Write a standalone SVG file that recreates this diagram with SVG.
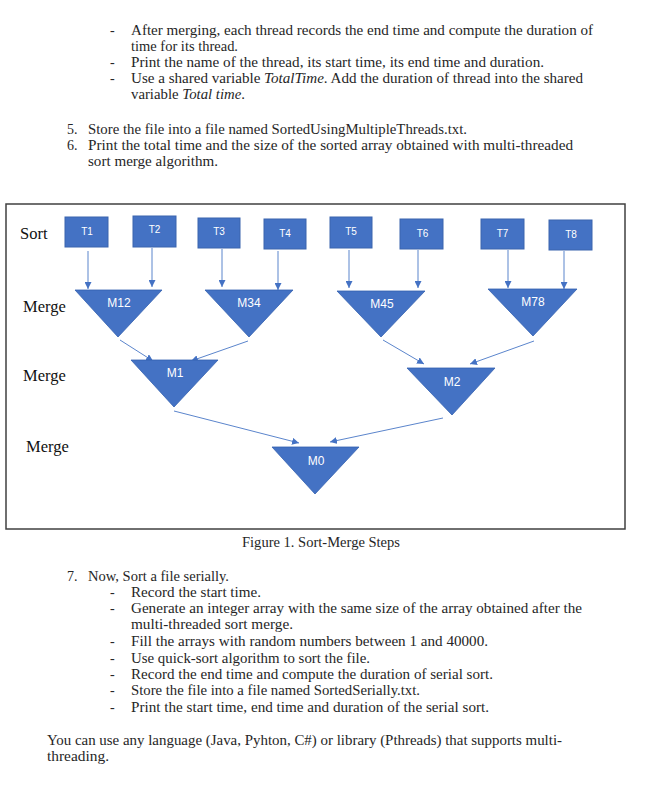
<svg xmlns="http://www.w3.org/2000/svg" width="662" height="807" viewBox="0 0 662 807">
<style>
.t{font-family:"Liberation Serif","Times New Roman",serif;font-size:14px;fill:#262626}
.side{font-family:"Liberation Serif","Times New Roman",serif;font-size:16.5px;fill:#111}
.box{fill:#4472C4;stroke:#3A64AE;stroke-width:1}
.tri{fill:#4472C4;stroke:#3461B0;stroke-width:0.8}
.lbl{font-family:"Liberation Sans",Arial,sans-serif;font-size:10px;fill:#fff;text-anchor:middle}
.mlbl{font-family:"Liberation Sans",Arial,sans-serif;font-size:12px;fill:#fff;text-anchor:middle}
.arr{stroke:#5B85CC;stroke-width:1;fill:none;marker-end:url(#ah)}
</style>
<defs>
<marker id="ah" markerUnits="userSpaceOnUse" markerWidth="7" markerHeight="7" refX="7" refY="3.5" orient="auto">
<path d="M0,0 L7,3.5 L0,7 z" fill="#4472C4"/>
</marker>
</defs>
<rect width="662" height="807" fill="#fff"/>

<g id="text-top">
<text class="t" x="110" y="35">-</text>
<text class="t" x="131" y="35" textLength="462" lengthAdjust="spacingAndGlyphs">After merging, each thread records the end time and compute the duration of</text>
<text class="t" x="131" y="51" textLength="107" lengthAdjust="spacingAndGlyphs">time for its thread.</text>
<text class="t" x="110" y="67">-</text>
<text class="t" x="131" y="67" textLength="413" lengthAdjust="spacingAndGlyphs">Print the name of the thread, its start time, its end time and duration.</text>
<text class="t" x="110" y="83">-</text>
<text class="t" x="131" y="83" textLength="452" lengthAdjust="spacingAndGlyphs">Use a shared variable <tspan font-style="italic">TotalTime</tspan>. Add the duration of thread into the shared</text>
<text class="t" x="131" y="99" textLength="114" lengthAdjust="spacingAndGlyphs">variable <tspan font-style="italic">Total time</tspan>.</text>
<text class="t" x="67" y="134">5.</text>
<text class="t" x="88" y="134" textLength="379" lengthAdjust="spacingAndGlyphs">Store the file into a file named SortedUsingMultipleThreads.txt.</text>
<text class="t" x="67" y="150">6.</text>
<text class="t" x="88" y="150" textLength="485" lengthAdjust="spacingAndGlyphs">Print the total time and the size of the sorted array obtained with multi-threaded</text>
<text class="t" x="88" y="166" textLength="130" lengthAdjust="spacingAndGlyphs">sort merge algorithm.</text>
</g>

<rect id="frame" x="6" y="204" width="619" height="325" fill="none" stroke="#404040" stroke-width="1.5"/>

<g id="side-labels">
<text class="side" x="20" y="239">Sort</text>
<text class="side" x="23" y="312">Merge</text>
<text class="side" x="23" y="381">Merge</text>
<text class="side" x="26" y="452">Merge</text>
</g>

<g id="connectors">
<line class="arr" x1="88" y1="251" x2="88" y2="289"/>
<line class="arr" x1="152" y1="248" x2="152" y2="287"/>
<line class="arr" x1="222" y1="249" x2="222" y2="287"/>
<line class="arr" x1="278" y1="251" x2="278" y2="290"/>
<line class="arr" x1="349" y1="250" x2="349" y2="288"/>
<line class="arr" x1="418" y1="250" x2="418" y2="288"/>
<line class="arr" x1="508" y1="250" x2="508" y2="288"/>
<line class="arr" x1="564" y1="251" x2="564" y2="289"/>
<line class="arr" x1="120" y1="340" x2="153" y2="361"/>
<line class="arr" x1="248" y1="341" x2="191" y2="361"/>
<line class="arr" x1="383" y1="340" x2="424" y2="364"/>
<line class="arr" x1="534" y1="341" x2="470" y2="364"/>
<line class="arr" x1="174" y1="411" x2="299" y2="443"/>
<line class="arr" x1="443" y1="418" x2="330" y2="442"/>
</g>

<g id="T1"><rect class="box" x="65" y="217" width="43" height="30"/><text class="lbl" x="87" y="235">T1</text></g>
<g id="T2"><rect class="box" x="133" y="216" width="43" height="31"/><text class="lbl" x="154.5" y="233">T2</text></g>
<g id="T3"><rect class="box" x="198" y="218" width="42" height="30"/><text class="lbl" x="219" y="235">T3</text></g>
<g id="T4"><rect class="box" x="264" y="219" width="42" height="30"/><text class="lbl" x="285" y="237">T4</text></g>
<g id="T5"><rect class="box" x="330" y="217" width="42" height="31"/><text class="lbl" x="351" y="235">T5</text></g>
<g id="T6"><rect class="box" x="400" y="219" width="43" height="30"/><text class="lbl" x="422.5" y="237">T6</text></g>
<g id="T7"><rect class="box" x="481" y="219" width="43" height="30"/><text class="lbl" x="502.5" y="236.5">T7</text></g>
<g id="T8"><rect class="box" x="549" y="220" width="43" height="30"/><text class="lbl" x="571" y="238">T8</text></g>

<g id="M12"><polygon class="tri" points="75,290 162,290 118,337"/><text class="mlbl" x="119" y="307">M12</text></g>
<g id="M34"><polygon class="tri" points="205,290 293,290 249,337"/><text class="mlbl" x="249" y="307">M34</text></g>
<g id="M45"><polygon class="tri" points="337,291 425,291 381,337"/><text class="mlbl" x="382" y="308">M45</text></g>
<g id="M78"><polygon class="tri" points="488,289 577,289 533,336"/><text class="mlbl" x="533" y="306">M78</text></g>
<g id="M1"><polygon class="tri" points="131,360 218,360 174,407"/><text class="mlbl" x="175" y="377">M1</text></g>
<g id="M2"><polygon class="tri" points="407,368 495,368 452,415"/><text class="mlbl" x="452" y="386">M2</text></g>
<g id="M0"><polygon class="tri" points="272,447 359,447 315,494"/><text class="mlbl" x="316" y="465">M0</text></g>

<g id="text-bottom">
<text class="t" x="242" y="547" textLength="158" lengthAdjust="spacingAndGlyphs">Figure 1. Sort-Merge Steps</text>
<text class="t" x="67" y="581">7.</text>
<text class="t" x="88" y="581" textLength="141" lengthAdjust="spacingAndGlyphs">Now, Sort a file serially.</text>
<text class="t" x="110" y="597">-</text>
<text class="t" x="131" y="597" textLength="130" lengthAdjust="spacingAndGlyphs">Record the start time.</text>
<text class="t" x="110" y="613">-</text>
<text class="t" x="131" y="613" textLength="451" lengthAdjust="spacingAndGlyphs">Generate an integer array with the same size of the array obtained after the</text>
<text class="t" x="131" y="629" textLength="162" lengthAdjust="spacingAndGlyphs">multi-threaded sort merge.</text>
<text class="t" x="110" y="646">-</text>
<text class="t" x="131" y="646" textLength="357" lengthAdjust="spacingAndGlyphs">Fill the arrays with random numbers between 1 and 40000.</text>
<text class="t" x="110" y="663">-</text>
<text class="t" x="131" y="663" textLength="239" lengthAdjust="spacingAndGlyphs">Use quick-sort algorithm to sort the file.</text>
<text class="t" x="110" y="679">-</text>
<text class="t" x="131" y="679" textLength="362" lengthAdjust="spacingAndGlyphs">Record the end time and compute the duration of serial sort.</text>
<text class="t" x="110" y="695">-</text>
<text class="t" x="131" y="695" textLength="289" lengthAdjust="spacingAndGlyphs">Store the file into a file named SortedSerially.txt.</text>
<text class="t" x="110" y="712">-</text>
<text class="t" x="131" y="712" textLength="358" lengthAdjust="spacingAndGlyphs">Print the start time, end time and duration of the serial sort.</text>
<text class="t" x="47" y="745" textLength="515" lengthAdjust="spacingAndGlyphs">You can use any language (Java, Pyhton, C#) or library (Pthreads) that supports multi-</text>
<text class="t" x="47" y="761" textLength="62" lengthAdjust="spacingAndGlyphs">threading.</text>
</g>
</svg>
